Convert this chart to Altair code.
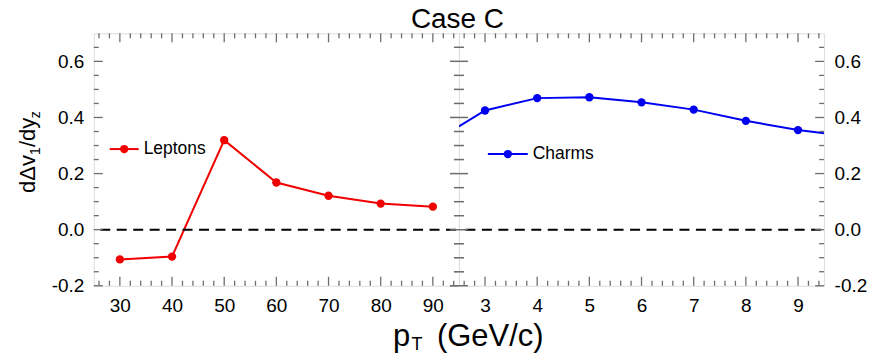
import altair as alt
import numpy as np
import pandas as pd

# ---- data -------------------------------------------------------------
LEPTON_PT = [30, 40, 50, 60, 70, 80, 90]
LEPTON_V = [-0.106, -0.096, 0.319, 0.168, 0.121, 0.093, 0.082]

CHARM_PT = [3, 4, 5, 6, 7, 8, 9]
CHARM_V = [0.425, 0.469, 0.472, 0.454, 0.428, 0.388, 0.355]
# the charm curve runs on to the panel edges
CHARM_EDGE_PT = [2.5, 9.5]
CHARM_EDGE_V = [0.368, 0.344]

Y_TICKS = [-0.2, 0.0, 0.2, 0.4, 0.6]
LEPTON_TICKS = [30, 40, 50, 60, 70, 80, 90]
CHARM_TICKS = [3, 4, 5, 6, 7, 8, 9]

Y_DOMAIN = [-0.2, 0.7]
LEPTON_DOMAIN = [25, 95]
CHARM_DOMAIN = [2.5, 9.5]

# ---- style ------------------------------------------------------------
W, H = 366, 253
FONT = "Liberation Sans"
FRAME = "#6e6e6e"
RED = "#f00000"
BLUE = "#0000f0"
MAJ, MIN = 9, 5
DOT = 70


def minor_ticks(lo, hi, step, majors):
    vals = np.round(np.arange(lo, hi + step / 2, step), 3)
    return [float(v) for v in vals if all(abs(v - m) > 1e-6 for m in majors)]


Y_MINOR = minor_ticks(-0.15, 0.65, 0.05, Y_TICKS)
LEPTON_MINOR = minor_ticks(26, 94, 2, LEPTON_TICKS)
CHARM_MINOR = minor_ticks(2.6, 9.4, 0.2, CHARM_TICKS)

yscale = alt.Scale(domain=Y_DOMAIN, nice=False, zero=False)

Y_LABEL_EXPR = ("datum.value < 0 ? '-' + format(-datum.value, '.1f') "
                ": format(datum.value, '.1f')")

LABEL_STYLE = dict(title=None, ticks=False, domain=False, grid=False,
                   labelFontSize=19, labelFont=FONT, labelColor="black",
                   labelFlush=False, labelOverlap=False)


def x_axis(values):
    return alt.Axis(values=values, labelPadding=11, **LABEL_STYLE)


def y_axis(orient):
    return alt.Axis(values=Y_TICKS, labelPadding=10, orient=orient,
                    labelExpr=Y_LABEL_EXPR, **LABEL_STYLE)


def tick_layers(xs, xaxis, yaxis, xmaj, xmin, left_mode, right_mode):
    """Inward frame ticks on all four sides of one panel (mode 2: both sides)."""
    layers = []
    for vals, ln in ((xmaj, MAJ), (xmin, MIN)):
        df = pd.DataFrame({"t": vals})
        base = alt.Chart(df).mark_rule(color=FRAME, strokeWidth=1.3)
        x = alt.X("t:Q", scale=xs, axis=xaxis)
        layers.append(base.encode(x=x, y=alt.value(0), y2=alt.value(ln)))
        layers.append(base.encode(x=x, y=alt.value(H - ln), y2=alt.value(H)))
    for vals, ln in ((Y_TICKS, MAJ), (Y_MINOR, MIN)):
        df = pd.DataFrame({"t": vals})
        base = alt.Chart(df).mark_rule(color=FRAME, strokeWidth=1.3)
        y = alt.Y("t:Q", scale=yscale, axis=yaxis)
        if left_mode:
            layers.append(base.encode(y=y, x=alt.value(-ln if left_mode == 2 else 0),
                                      x2=alt.value(ln)))
        if right_mode:
            layers.append(base.encode(y=y, x=alt.value(W - ln),
                                      x2=alt.value(W + ln if right_mode == 2 else W)))
    return layers


def text(s, x, y, size, align="left", angle=0, baseline="alphabetic"):
    return alt.Chart(pd.DataFrame({"s": [s]})).mark_text(
        font=FONT, fontSize=size, align=align, baseline=baseline, angle=angle,
        color="black",
    ).encode(text="s:N", x=alt.value(x), y=alt.value(y))


def anchor(x):
    # invisible vertical stroke that fixes the drawing's outer bounds
    return alt.Chart(pd.DataFrame({"a": [0]})).mark_rule(
        strokeOpacity=0, strokeWidth=0.01
    ).encode(x=alt.value(x), x2=alt.value(x), y=alt.value(-32), y2=alt.value(326))


def zero_line(yaxis):
    return alt.Chart(pd.DataFrame({"z": [0.0]})).mark_rule(
        color="black", strokeWidth=2, strokeDash=[10, 6.5], strokeDashOffset=10
    ).encode(y=alt.Y("z:Q", scale=yscale, axis=yaxis), x=alt.value(0), x2=alt.value(W))


def legend_entry(x0, x1, y, label, color):
    df = pd.DataFrame({"s": [label]})
    line = alt.Chart(df).mark_rule(color=color, strokeWidth=2).encode(
        x=alt.value(x0), x2=alt.value(x1), y=alt.value(y))
    dot = alt.Chart(df).mark_point(filled=True, size=DOT, opacity=1, color=color).encode(
        x=alt.value((x0 + x1) / 2), y=alt.value(y))
    lab = text(label, x1 + 5, y, 17.5, baseline="middle")
    return [line, dot, lab]


# ---- left panel: leptons ---------------------------------------------
lep_x = alt.Scale(domain=LEPTON_DOMAIN, nice=False, zero=False)
lep_xa = x_axis(LEPTON_TICKS)
lep_ya = y_axis("left")
lep_df = pd.DataFrame({"pt": LEPTON_PT, "v": LEPTON_V})

lep_enc = dict(x=alt.X("pt:Q", scale=lep_x, axis=lep_xa),
               y=alt.Y("v:Q", scale=yscale, axis=lep_ya))
lep_line = alt.Chart(lep_df).mark_line(color=RED, strokeWidth=2).encode(**lep_enc)
lep_pts = alt.Chart(lep_df).mark_point(
    filled=True, size=DOT, opacity=1, color=RED).encode(**lep_enc)

left_layers = (
    [lep_line, zero_line(lep_ya), lep_pts]
    + tick_layers(lep_x, lep_xa, lep_ya, LEPTON_TICKS, LEPTON_MINOR, 1, 2)
    + legend_entry(16, 45, 116, "Leptons", RED)
    + [
        text("Case C", 364.5, -5, 28, align="center"),
        text("p", 300, 313, 31),
        text("T", 318.5, 317, 18),
        text("(GeV/c)", 344, 313, 31),
        text("d\u0394v", -59, 160, 22, angle=270),
        text("1", -54, 122, 14, angle=270),
        text("/dy", -59, 114, 22, angle=270),
        text("z", -54, 85, 14, angle=270),
        anchor(-93),
    ]
)
left = alt.layer(*left_layers).properties(width=W, height=H)

# ---- right panel: charms ---------------------------------------------
ch_x = alt.Scale(domain=CHARM_DOMAIN, nice=False, zero=False)
ch_xa = x_axis(CHARM_TICKS)
ch_ya = y_axis("right")
ch_pts_df = pd.DataFrame({"pt": CHARM_PT, "v": CHARM_V})
ch_curve_df = pd.DataFrame({
    "pt": [CHARM_EDGE_PT[0]] + CHARM_PT + [CHARM_EDGE_PT[1]],
    "v": [CHARM_EDGE_V[0]] + CHARM_V + [CHARM_EDGE_V[1]],
})

ch_enc = dict(x=alt.X("pt:Q", scale=ch_x, axis=ch_xa),
              y=alt.Y("v:Q", scale=yscale, axis=ch_ya))
ch_line = alt.Chart(ch_curve_df).mark_line(
    color=BLUE, strokeWidth=2, clip=True).encode(**ch_enc)
ch_pts = alt.Chart(ch_pts_df).mark_point(
    filled=True, size=DOT, opacity=1, color=BLUE).encode(**ch_enc)

right_layers = (
    [ch_line, zero_line(ch_ya), ch_pts]
    + tick_layers(ch_x, ch_xa, ch_ya, CHARM_TICKS, CHARM_MINOR, 2, 1)
    + legend_entry(29, 69, 121, "Charms", BLUE)
    + [anchor(411)]
)
right = alt.layer(*right_layers).properties(width=W, height=H)

chart = alt.hconcat(left, right, spacing=0, bounds="flush").properties(
    padding=0
).configure_view(stroke=FRAME, strokeWidth=1.5).configure(background="white")

chart.save("out.html", embed_options={"renderer": "svg", "actions": False})
